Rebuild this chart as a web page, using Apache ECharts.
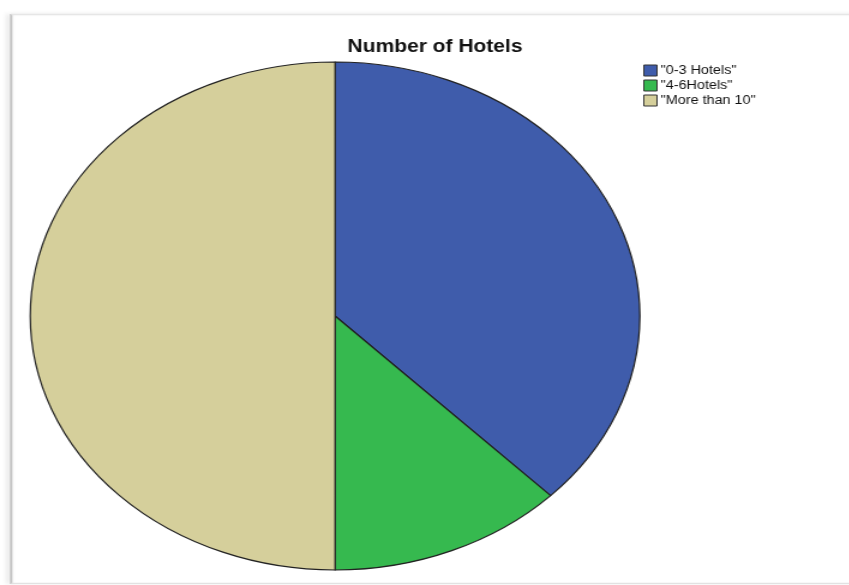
<!DOCTYPE html>
<html>
<head>
<meta charset="utf-8">
<script src="https://cdn.jsdelivr.net/npm/echarts@6/dist/echarts.min.js"></script>
<style>
  html, body { margin: 0; padding: 0; background: #ffffff; overflow: hidden; }
  #wrap { width: 849px; height: 585px; overflow: hidden; position: relative; }
  /* the chart is laid out narrower and stretched horizontally, giving the oval pie */
  #chart { position: absolute; left: 0; top: 0; width: 708px; height: 585px;
           transform: scaleX(1.2); transform-origin: 0 0; }
</style>
</head>
<body>
<div id="wrap"><div id="chart"></div></div>
<script>
// Hotel-count groups and their shares
const categories = ['"0-3 Hotels"', '"4-6Hotels"', '"More than 10"'];
const values = [3, 1, 4];
const colors = ['#3f5cab', '#36b94f', '#d5cf9b'];
const titleText = 'Number of Hotels';

const chart = echarts.init(document.getElementById('chart'), null, { renderer: 'canvas' });

const option = {
  backgroundColor: '#ffffff',
  animation: false,
  color: colors,
  title: {
    text: titleText,
    left: 362.5,
    textAlign: 'center',
    top: 38,
    padding: 0,
    textStyle: {
      fontFamily: 'Liberation Sans, Arial, sans-serif',
      fontSize: 17.5,
      fontWeight: 'bold',
      color: '#111111'
    }
  },
  legend: {
    orient: 'vertical',
    left: 536,
    top: 64.5,
    icon: 'rect',
    itemWidth: 11,
    itemHeight: 11,
    itemGap: 3,
    padding: 0,
    selectedMode: false,
    itemStyle: { borderColor: '#333333', borderWidth: 1 },
    textStyle: {
      fontFamily: 'Liberation Sans, Arial, sans-serif',
      fontSize: 12,
      color: '#111111',
      padding: [0, 0, 0, -2]
    },
    data: categories
  },
  graphic: [
    // frame around the plot area
    {
      type: 'line', silent: true,
      shape: { x1: 9.3, y1: 14, x2: 9.3, y2: 584 },
      style: { stroke: '#c4c4c4', lineWidth: 2, shadowColor: 'rgba(0,0,0,0.18)', shadowBlur: 4, shadowOffsetX: -2 }
    },
    {
      type: 'line', silent: true,
      shape: { x1: 9.3, y1: 14.5, x2: 720, y2: 14.5 },
      style: { stroke: '#e6e6e6', lineWidth: 1.5, shadowColor: 'rgba(0,0,0,0.08)', shadowBlur: 3, shadowOffsetY: -1 }
    },
    {
      type: 'line', silent: true,
      shape: { x1: 9.3, y1: 583.5, x2: 720, y2: 583.5 },
      style: { stroke: '#e2e2e2', lineWidth: 1.5 }
    }
  ],
  series: [
    {
      type: 'pie',
      center: [279.2, 316],
      radius: 254,
      startAngle: 90,
      clockwise: true,
      silent: true,
      label: { show: false },
      labelLine: { show: false },
      emphasis: { disabled: true },
      itemStyle: { borderColor: '#222222', borderWidth: 1.2 },
      data: categories.map((name, i) => ({ name: name, value: values[i] }))
    }
  ]
};

chart.setOption(option);
</script>
</body>
</html>
